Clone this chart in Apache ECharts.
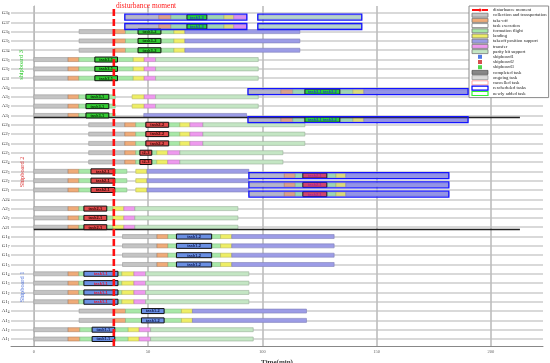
<!DOCTYPE html>
<html><head><meta charset="utf-8">
<script src="https://cdn.jsdelivr.net/npm/echarts@6/dist/echarts.min.js"></script>
<style>html,body{margin:0;padding:0;background:#fff}#c{width:550px;height:363px}</style>
</head><body><div id="c"></div>
<script>
// ---------- DATA ----------
const rowLabels = ['G3_8','G3_7','G3_6','G3_5','G3_4','G3_3','G3_2','G3_1','A3_4','A3_3','A3_2','A3_1',
 'G2_8','G2_7','G2_6','G2_5','G2_4','G2_3','G2_2','G2_1','A2_4','A2_3','A2_2','A2_1',
 'G1_8','G1_7','G1_6','G1_5','G1_4','G1_3','G1_2','G1_1','A1_4','A1_3','A1_2','A1_1'];
const xTickLabels = [0, 50, 100, 150, 200];
const disturbanceTime = 35;
// entries: [row, start(min), end(min), rescheduled flag]
const collection = [
 ['G3_6',19.8,35.4],['G3_5',19.8,35.4],['G3_4',19.8,35.4],
 ['G3_3',0,15],['G3_2',0,15],['G3_1',0,15],
 ['A3_3',0,15],['A3_2',0,15],['A3_1',0,15],
 ['G2_8',24,39.8],['G2_7',24,39.8],['G2_6',24,39.8],['G2_5',24,39.8],['G2_4',24,39.8],
 ['G2_3',0,15],['G2_2',0,15],['G2_1',0,15],
 ['A2_3',0,15],['A2_2',0,15],['A2_1',0,15],
 ['G1_8',38.8,53.9],['G1_7',38.8,53.9],['G1_6',38.8,53.9],['G1_5',38.8,53.9],
 ['G1_4',0,15],['G1_3',0,15],['G1_2',0,15],['G1_1',0,15],
 ['A1_4',19.8,35.1],['A1_3',19.8,35.1],['A1_2',0,15],['A1_1',0,15],
 ['G3_8',39.8,54.7,1],['G3_7',39.8,54.7,1],['A3_4',93.7,108.1,1],['A3_1',93.7,108.1,1],
 ['G2_3',94.1,109.6,1],['G2_2',94.1,109.6,1],['G2_1',94.1,109.6,1]
];
const takeoff = [
 ['G3_6',35.4,40.1],['G3_5',35.4,40.1],['G3_4',35.4,40.1],
 ['G3_3',15,19.7],['G3_2',15,19.7],['G3_1',15,19.7],
 ['A3_3',15,19.7],['A3_2',15,19.7],['A3_1',15,19.7],
 ['G2_8',39.8,44.6],['G2_7',39.8,44.6],['G2_6',39.8,44.6],['G2_5',39.8,44.6],['G2_4',39.8,44.6],
 ['G2_3',15,19.7],['G2_2',15,19.7],['G2_1',15,19.7],
 ['A2_3',15,19.7],['A2_2',15,19.7],['A2_1',15,19.7],
 ['G1_8',53.9,58.7],['G1_7',53.9,58.7],['G1_6',53.9,58.7],['G1_5',53.9,58.7],
 ['G1_4',15,19.7],['G1_3',15,19.7],['G1_2',15,19.7],['G1_1',15,19.7],
 ['A1_4',35.1,40.1],['A1_3',35.1,40.1],['A1_2',15,20.1],['A1_1',15,20.1],
 ['G3_8',54.7,60,1],['G3_7',54.7,60,1],['A3_4',108.1,113.3,1],['A3_1',108.1,113.3,1],
 ['G2_3',109.6,114.4,1],['G2_2',109.6,114.4,1],['G2_1',109.6,114.4,1]
];
const formation = [
 ['G3_6',40.1,45.6],['G3_6',55.6,61.3],['G3_5',40.1,45.6],['G3_5',55.6,61.3],['G3_4',40.1,45.6],['G3_4',55.6,61.3],
 ['G3_3',19.7,26.7],['G3_3',36.6,43.5],['G3_2',19.7,26.7],['G3_2',36.6,43.5],['G3_1',19.7,26.7],['G3_1',36.6,43.5],
 ['A3_3',19.7,22.8],['A3_3',32.8,35.6],['A3_2',19.7,22.8],['A3_2',32.8,35.6],['A3_1',19.7,22.8],['A3_1',32.8,35.6],
 ['G2_8',44.6,49],['G2_8',59,63.9],['G2_7',44.6,49],['G2_7',59,63.9],['G2_6',44.6,49],['G2_6',59,63.9],
 ['G2_5',44.6,46.4],['G2_5',51.6,53.8],['G2_4',44.6,46.4],['G2_4',51.6,53.8],
 ['G2_3',19.7,25],['G2_3',35.4,40.7],['G2_2',19.7,25],['G2_2',35.4,40.7],['G2_1',19.7,25],['G2_1',35.4,40.7],
 ['A2_3',19.7,21.9],['A2_3',31.9,34.6],['A2_2',19.7,21.9],['A2_2',31.9,34.6],['A2_1',19.7,21.9],['A2_1',31.9,34.6],
 ['G1_8',58.7,62.4],['G1_8',77.8,81.7],['G1_7',58.7,62.4],['G1_7',77.8,81.7],
 ['G1_6',58.7,62.4],['G1_6',77.8,81.7],['G1_5',58.7,62.4],['G1_5',77.8,81.7],
 ['G1_4',19.7,21.9],['G1_4',36.8,38.5],['G1_3',19.7,21.9],['G1_3',36.8,38.5],
 ['G1_2',19.7,21.9],['G1_2',36.8,38.5],['G1_1',19.7,21.9],['G1_1',36.8,38.5],
 ['A1_4',40.1,47.1],['A1_4',57,64.6],['A1_3',40.1,47.1],['A1_3',57,64.6],
 ['A1_2',20.1,25.5],['A1_2',35.4,41.3],['A1_1',20.1,25.5],['A1_1',35.4,41.3],
 ['G3_8',60,67,1],['G3_8',75.7,83.2,1],['G3_7',60,67,1],['G3_7',75.7,83.2,1],
 ['A3_4',113.3,118.6,1],['A3_4',133.9,139.6,1],['A3_1',113.3,118.6,1],['A3_1',133.9,139.6,1],
 ['G2_3',114.4,117.7,1],['G2_3',128.2,132.2,1],['G2_2',114.4,117.7,1],['G2_2',128.2,132.2,1],
 ['G2_1',114.4,117.7,1],['G2_1',128.2,132.2,1]
];
// task execution: [row, start, end, rescheduled, text]
const taskExec = [
 ['G3_6',45.6,55.6,0,'task3-2'],['G3_5',45.6,55.6,0,'task3-2'],['G3_4',45.6,55.6,0,'task3-2'],
 ['G3_3',26.7,36.6,0,'task3-1'],['G3_2',26.7,36.6,0,'task3-1'],['G3_1',26.7,36.6,0,'task3-1'],
 ['A3_3',22.8,32.8,0,'task3-1'],['A3_2',22.8,32.8,0,'task3-1'],['A3_1',22.8,32.8,0,'task3-1'],
 ['G2_8',49,59,0,'task2-2'],['G2_7',49,59,0,'task2-2'],['G2_6',49,59,0,'task2-2'],
 ['G2_5',46.4,51.6,0,'t2-3'],['G2_4',46.4,51.6,0,'t2-3'],
 ['G2_3',25,35.4,0,'task2-1'],['G2_2',25,35.4,0,'task2-1'],['G2_1',25,35.4,0,'task2-1'],
 ['A2_3',21.9,31.9,0,'task2-1'],['A2_2',21.9,31.9,0,'task2-1'],['A2_1',21.9,31.9,0,'task2-1'],
 ['G1_8',62.4,77.8,0,'task1-2'],['G1_7',62.4,77.8,0,'task1-2'],['G1_6',62.4,77.8,0,'task1-2'],['G1_5',62.4,77.8,0,'task1-2'],
 ['G1_4',21.9,36.8,0,'task1-1'],['G1_3',21.9,36.8,0,'task1-1'],['G1_2',21.9,36.8,0,'task1-1'],['G1_1',21.9,36.8,0,'task1-1'],
 ['A1_4',47.1,57,0,'task1-2'],['A1_3',47.1,57,0,'task1-2'],['A1_2',25.5,35.4,0,'task1-1'],['A1_1',25.5,35.4,0,'task1-1'],
 ['G3_8',67,75.7,1,'task3-3'],['G3_7',67,75.7,1,'task3-3'],
 ['A3_4',118.6,133.9,1,'task3-1 task3-2'],['A3_1',118.6,133.9,1,'task3-1 task3-2'],
 ['G2_3',117.7,128.2,1,'task2-1'],['G2_2',117.7,128.2,1,'task2-1'],['G2_1',117.7,128.2,1,'task2-1']
];
const landing = [
 ['G3_6',61.3,66.1],['G3_5',61.3,66.1],['G3_4',61.3,66.1],
 ['G3_3',43.5,48.3],['G3_2',43.5,48.3],['G3_1',43.5,48.3],
 ['A3_3',43,48.3],['A3_2',43,48.3],
 ['G2_8',63.9,68.3],['G2_7',63.9,68.3],['G2_6',63.9,68.3],['G2_5',53.8,58.6],['G2_4',53.8,58.6],
 ['G2_3',44.6,49.5],['G2_2',44.6,49.5],['G2_1',44.6,49.5],
 ['A2_3',34.6,39.4],['A2_2',34.6,39.4],['A2_1',34.6,39.4],
 ['G1_8',81.7,86.6],['G1_7',81.7,86.6],['G1_6',81.7,86.6],['G1_5',81.7,86.6],
 ['G1_4',38.5,43.8],['G1_3',38.5,43.8],['G1_2',38.5,43.8],['G1_1',38.5,43.8],
 ['A1_4',64.6,69.4],['A1_3',64.6,69.4],['A1_2',41.3,46.1],['A1_1',41.3,46.1],
 ['G3_8',83.2,87.5,1],['G3_7',83.2,87.5,1],['A3_4',139.6,144.4,1],['A3_1',139.6,144.4,1],
 ['G2_3',132.2,136.5,1],['G2_2',132.2,136.5,1],['G2_1',132.2,136.5,1]
];
const transfer = [
 ['G3_3',48.3,53.3],['G3_2',48.3,53.3],['G3_1',48.3,53.3],['A3_3',48.3,53.3],['A3_2',48.3,53.3],
 ['G2_8',68.3,74],['G2_7',68.3,74],['G2_6',68.3,74],['G2_5',58.6,63.9],['G2_4',58.6,63.9],
 ['A2_3',39.4,44.2],['A2_2',39.4,44.2],['A2_1',39.4,44.2],
 ['G1_4',43.8,48.9],['G1_3',43.8,48.9],['G1_2',43.8,48.9],['G1_1',43.8,48.9],
 ['A1_2',46.1,51.1],['A1_1',46.1,51.1],
 ['G3_8',87.5,93.2,1],['G3_7',87.5,93.2,1]
];
const takeoffPosition = [
 ['G3_6',66.1,116.4],['G3_5',66.1,116.4],['G3_4',66.1,116.4],['A3_1',48.1,93.1],
 ['G2_3',49.5,94.1],['G2_2',49.5,94.1],['G2_1',49.5,94.1],
 ['G1_8',86.6,131.4],['G1_7',86.6,131.4],['G1_6',86.6,131.4],['G1_5',86.6,131.4],
 ['A1_4',69.4,119.3],['A1_3',69.4,119.3],
 ['A3_4',144.4,190,1],['A3_1',144.4,190,1],
 ['G2_3',136.5,181.6,1],['G2_2',136.5,181.6,1],['G2_1',136.5,181.6,1]
];
const parity = [
 ['G3_3',53.3,98.2],['G3_2',53.3,98.2],['G3_1',53.3,98.2],['A3_3',53.3,98.2],['A3_2',53.3,98.2],
 ['G2_8',74,118.6],['G2_7',74,118.6],['G2_6',74,118.6],['G2_5',63.9,109],['G2_4',63.9,109],
 ['A2_3',44.2,89.3],['A2_2',44.2,89.3],['A2_1',44.2,89.3],
 ['G1_4',48.9,94.1],['G1_3',48.9,94.1],['G1_2',48.9,94.1],['G1_1',48.9,94.1],
 ['A1_2',51.1,96],['A1_1',51.1,96],
 ['G3_8',98,143.5,1],['G3_7',98,143.5,1]
];
const rescheduled = [
 ['G3_8',39.8,93.2],['G3_8',98,143.5],['G3_7',39.8,93.2],['G3_7',98,143.5],
 ['A3_4',93.7,190],['A3_1',93.7,190],
 ['G2_3',94.1,181.6],['G2_2',94.1,181.6],['G2_1',94.1,181.6]
];
const separators = [['A3_1',0,212.7],['A2_1',0,212.7]];

// ---------- STYLE ----------
const SERIF = 'Liberation Serif, DejaVu Serif, serif';
const RESCHED_SHIFT = 0.45;
const shipColor = {1:'#6a8fe2', 2:'#e04a4a', 3:'#34cc34'};
const shipColorR = {1:'#6a8fe2', 2:'#e0405a', 3:'#1fe01f'};
const rowValue = r => rowLabels.length - rowLabels.indexOf(r);
const rowY = d => rowValue(d[0]) - (d[3] ? RESCHED_SHIFT : 0);

function segSeries(name, arr, fill, stroke) {
  return {
    name, type:'custom', z:2, silent:true, animation:false,
    itemStyle:{color:fill, borderColor:stroke},
    data: arr.map(d => [d[1], d[2], rowY(d)]),
    encode:{x:[0,1], y:2},
    renderItem:(p, api) => {
      const a = api.coord([api.value(0), api.value(2)]);
      const b = api.coord([api.value(1), api.value(2)]);
      const h = 4;
      return {type:'rect', shape:{x:a[0], y:a[1]-h/2, width:b[0]-a[0], height:h},
              style:{fill, stroke, lineWidth:0.6}};
    }
  };
}

const taskSeries = {
  name:'task execution', type:'custom', z:3, silent:true, animation:false,
  itemStyle:{color:'#fff', borderColor:'#888'},
  data: taskExec.map(d => [d[1], d[2], rowY(d)]),
  encode:{x:[0,1], y:2},
  renderItem:(p, api) => {
    const d = taskExec[p.dataIndex];
    const a = api.coord([api.value(0), api.value(2)]);
    const b = api.coord([api.value(1), api.value(2)]);
    const ship = d[0][1];
    const fill = d[3] ? shipColorR[ship] : shipColor[ship];
    let tc = ship === '3' ? '#063306' : ship === '2' ? '#3a0606' : '#101c55';
    if (!d[3] && d[0][0] === 'G' && ship === '1' && +d[0][3] <= 4) tc = '#e8142a';
    if (d[3]) tc = ship === '3' ? '#1a3ab0' : '#b01a8a';
    const h = 5;
    return {type:'group', children:[
      {type:'rect', shape:{x:a[0], y:a[1]-h/2, width:b[0]-a[0], height:h},
       style:{fill, stroke:'#111', lineWidth:1}},
      {type:'text', style:{text:d[4], x:(a[0]+b[0])/2, y:a[1]+0.3, align:'center', verticalAlign:'middle',
        fontSize:4, fontWeight:'bold', fontFamily:'Liberation Sans, sans-serif', fill:tc}}
    ]};
  }
};

const reschedSeries = {
  name:'rescheduled tasks', type:'custom', z:4, silent:true, animation:false,
  itemStyle:{color:'#fff', borderColor:'#0000ff'},
  data: rescheduled.map(d => [d[1], d[2], rowValue(d[0]) - RESCHED_SHIFT]),
  encode:{x:[0,1], y:2},
  renderItem:(p, api) => {
    const a = api.coord([api.value(0), api.value(2)]);
    const b = api.coord([api.value(1), api.value(2)]);
    const h = 6;
    return {type:'rect', shape:{x:a[0], y:a[1]-h/2, width:b[0]-a[0], height:h},
            style:{fill:'rgba(90,90,255,0.14)', stroke:'#1414ff', lineWidth:1.3}};
  }
};

const gridSeries = {
  type:'line', data:[], silent:true, animation:false,
  markLine:{
    z:1, silent:true, animation:false, symbol:['none','none'], label:{show:false},
    data:[
      ...rowLabels.map(r => ({yAxis: rowValue(r), lineStyle:{color:'#cccccc', width:1.6, type:'solid'}})),
      ...xTickLabels.map(v => ({xAxis: v, lineStyle:{color:'#bdbdbd', width:1.6, type:'solid'}})),
    ]
  }
};
const sepSeries = {
  type:'line', data:[], silent:true, animation:false,
  markLine:{
    z:3, silent:true, animation:false, symbol:['none','none'], label:{show:false},
    data: separators.map(s => [{coord:[s[1], rowValue(s[0]) - 0.22]}, {coord:[s[2], rowValue(s[0]) - 0.22]}]),
    lineStyle:{color:'#222', width:1.3, type:'solid'}
  }
};
const disturbSeries = {
  name:'disturbance moment', type:'line', z:10, symbol:'none', silent:true, animation:false,
  data:[[disturbanceTime, 0.25],[disturbanceTime, 36.75]],
  lineStyle:{color:'#ff1010', width:2.6, type:[7,3]}, itemStyle:{color:'#ff1010'}
};
const dummy = (name, color) => ({name, type:'scatter', data:[], itemStyle:{color}});

const legendData = [
  {name:'disturbance moment'},
  {name:'collection and transportation', icon:'rect', itemStyle:{color:'#c4c4c4', borderColor:'#777', borderWidth:0.8}},
  {name:'take-off', icon:'rect', itemStyle:{color:'#efab78', borderColor:'#777', borderWidth:0.8}},
  {name:'task execution', icon:'rect', itemStyle:{color:'#ffffff', borderColor:'#777', borderWidth:0.8}},
  {name:'formation flight', icon:'rect', itemStyle:{color:'#a8e8a8', borderColor:'#777', borderWidth:0.8}},
  {name:'landing', icon:'rect', itemStyle:{color:'#eeee66', borderColor:'#777', borderWidth:0.8}},
  {name:'takeoff position support', icon:'rect', itemStyle:{color:'#9c9ce6', borderColor:'#777', borderWidth:0.8}},
  {name:'transfer', icon:'rect', itemStyle:{color:'#ee99ee', borderColor:'#777', borderWidth:0.8}},
  {name:'parity bit support', icon:'rect', itemStyle:{color:'#c4e6c4', borderColor:'#777', borderWidth:0.8}},
  {name:'shipboard1', icon:'path://M0,0h10v10h-10z', itemStyle:{color:'#2255dd', borderWidth:0}},
  {name:'shipboard2', icon:'path://M0,0h10v10h-10z', itemStyle:{color:'#cc2222', borderWidth:0}},
  {name:'shipboard3', icon:'path://M0,0h10v10h-10z', itemStyle:{color:'#22cc22', borderWidth:0}},
  {name:'completed task', icon:'rect', itemStyle:{color:'#6a6a6a', borderColor:'#444', borderWidth:0.8}},
  {name:'ongoing task', icon:'rect', itemStyle:{color:'#d2d2d2', borderColor:'#888', borderWidth:0.8}},
  {name:'cancelled task', icon:'rect', itemStyle:{color:'#ffffff', borderColor:'#ff9090', borderWidth:1}},
  {name:'rescheduled tasks', icon:'rect', itemStyle:{color:'#ffffff', borderColor:'#0000ff', borderWidth:1.2}},
  {name:'newly added task', icon:'rect', itemStyle:{color:'#ffffff', borderColor:'#00ee00', borderWidth:1.2}}
];

const chart = echarts.init(document.getElementById('c'), null, {renderer:'canvas'});
chart.setOption({
  animation:false,
  backgroundColor:'#fff',
  grid:{left:11, right:7, top:6, bottom:17, outerBoundsMode:'none', containLabel:false},
  xAxis:{
    type:'value', min:-10, max:222.8, interval:10,
    name:'Time(min)', nameLocation:'middle', nameGap:9,
    nameTextStyle:{fontFamily:SERIF, fontSize:7, fontWeight:'bold', color:'#333'},
    axisLine:{show:true, lineStyle:{color:'#888', width:1}},
    axisTick:{show:false}, splitLine:{show:false},
    axisLabel:{fontSize:4.5, color:'#666', margin:3, fontFamily:SERIF,
      formatter: v => xTickLabels.includes(Math.round(v)) && Math.abs(v - Math.round(v)) < 1e-6 ? String(Math.round(v)) : ''}
  },
  yAxis:{
    type:'value', min:0.25, max:36.75, interval:0.25,
    axisLine:{show:true, lineStyle:{color:'#b0b0b0', width:1}},
    axisTick:{show:false}, splitLine:{show:false},
    axisLabel:{margin:1.5, color:'#333',
      formatter: v => {
        const k = Math.round(v);
        if (Math.abs(v - k) > 1e-6 || k < 1 || k > rowLabels.length) return '';
        const [n, s] = rowLabels[rowLabels.length - k].split('_');
        return `{n|${n}}{s|${s}}`;
      },
      rich:{n:{fontSize:5, fontFamily:SERIF, color:'#333'},
            s:{fontSize:3.5, fontFamily:SERIF, color:'#333', verticalAlign:'bottom', padding:[2.5,0,0,0]}}
    }
  },
  legend:{
    orient:'vertical', left:469, top:6, padding:[1.5,2,1.5,2],
    itemWidth:16, itemHeight:4, itemGap:0.2,
    backgroundColor:'#fff', borderColor:'#8a8a8a', borderWidth:1,
    selectedMode:false,
    textStyle:{fontSize:4.7, lineHeight:5, fontFamily:SERIF, color:'#222'},
    data:legendData
  },
  graphic:[
    {type:'text', x:116, y:5.6, z:20, style:{text:'disturbance moment', fill:'#ff2020', fontSize:7.4, fontFamily:SERIF, verticalAlign:'middle'}},
    {type:'text', x:21, y:65, rotation:Math.PI/2, z:20, style:{text:'shipboard 3', fill:'#33cc33', fontSize:6.3, fontFamily:SERIF, align:'center', verticalAlign:'middle'}},
    {type:'text', x:22, y:172, rotation:Math.PI/2, z:20, style:{text:'Shipboard 2', fill:'#dd3333', fontSize:6.3, fontFamily:SERIF, align:'center', verticalAlign:'middle'}},
    {type:'text', x:22, y:287, rotation:Math.PI/2, z:20, style:{text:'Shipboard 1', fill:'#5577dd', fontSize:6.3, fontFamily:SERIF, align:'center', verticalAlign:'middle'}}
  ],
  series:[
    gridSeries,
    segSeries('collection and transportation', collection, '#c4c4c4', '#9a9a9a'),
    segSeries('take-off', takeoff, '#efab78', '#b08060'),
    segSeries('formation flight', formation, '#a8e8a8', '#88b888'),
    segSeries('landing', landing, '#eeee66', '#b8b860'),
    segSeries('takeoff position support', takeoffPosition, '#9c9ce6', '#8080b8'),
    segSeries('transfer', transfer, '#ee99ee', '#b880b8'),
    segSeries('parity bit support', parity, '#c4e6c4', '#98b098'),
    taskSeries,
    reschedSeries,
    sepSeries,
    disturbSeries,
    dummy('shipboard1', '#2255dd'), dummy('shipboard2', '#cc2222'), dummy('shipboard3', '#22cc22'),
    dummy('completed task', '#6a6a6a'), dummy('ongoing task', '#d2d2d2'),
    dummy('cancelled task', '#ff9090'), dummy('newly added task', '#00ee00')
  ]
});
</script></body></html>
